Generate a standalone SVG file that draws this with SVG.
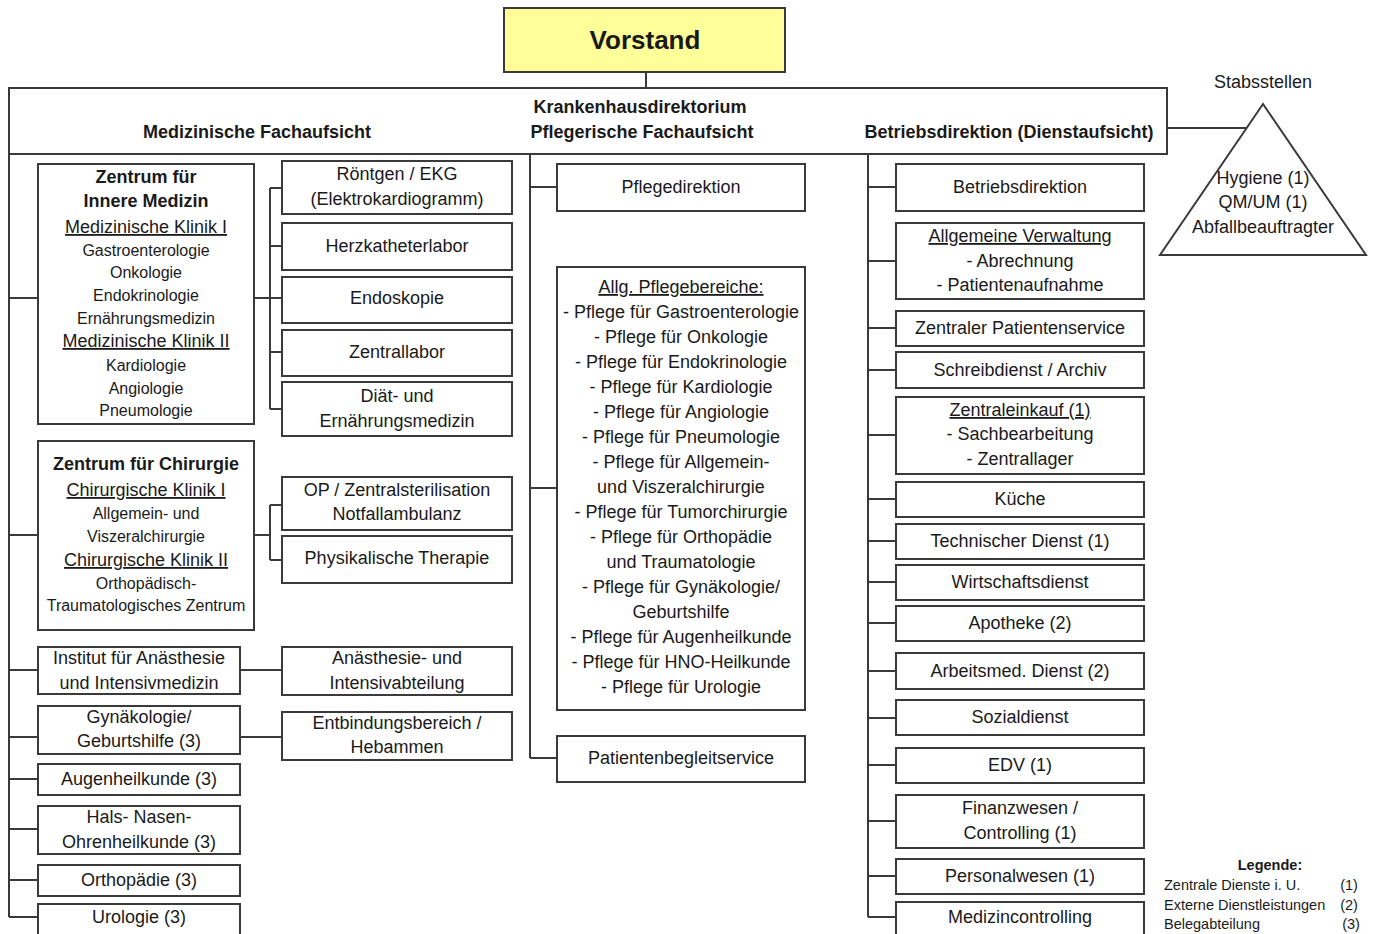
<svg xmlns="http://www.w3.org/2000/svg" width="1374" height="934" viewBox="0 0 1374 934">
<style>
.box{fill:#fff;stroke:#3a3a3a;stroke-width:2}
.ln{fill:none;stroke:#3a3a3a;stroke-width:2}
text{font-family:"Liberation Sans",Arial,sans-serif;font-size:18px;fill:#1a1a1a;text-anchor:middle}
.s{font-size:16px}
.b{font-weight:bold}
.u{text-decoration:underline}
.lg{font-size:14.5px;text-anchor:start}
.ln2{font-size:14.5px}
</style>
<rect width="1374" height="934" fill="#fff"/>
<g id="connectors">
<path class="ln" d="M646 72V88"/>
<path class="ln" d="M1167 128H1246"/>
<path class="ln" d="M9 154V917"/>
<path class="ln" d="M9 298H38M9 535H38M9 670H38M9 737H38M9 779H38M9 829H38M9 880H38M9 917H38"/>
<path class="ln" d="M254 298H270M270 188V409M270 188H282M270 246H282M270 298H282M270 352H282M270 409H282"/>
<path class="ln" d="M254 535H270M270 505V560M270 505H282M270 560H282"/>
<path class="ln" d="M240 670H282M240 737H282"/>
<path class="ln" d="M530 154V758M530 187H557M530 488H557M530 758H557"/>
<path class="ln" d="M868 154V917M868 187H896M868 261H896M868 328H896M868 370H896M868 435H896M868 499H896M868 541H896M868 582H896M868 623H896M868 671H896M868 718H896M868 765H896M868 821H896M868 876H896M868 917H896"/>
</g>
<g id="vorstand"><rect x="504" y="8" width="281" height="64" fill="#ffff99" stroke="#3a3a3a" stroke-width="2"/><text x="645" y="49" class="b" style="font-size:26px">Vorstand</text></g>
<g id="direktorium"><rect class="box" x="9" y="88" width="1158" height="66"/>
<text x="640" y="113" class="b">Krankenhausdirektorium</text>
<text x="257" y="138" class="b">Medizinische Fachaufsicht</text>
<text x="642" y="138" class="b">Pflegerische Fachaufsicht</text>
<text x="1009" y="138" class="b">Betriebsdirektion (Dienstaufsicht)</text></g>
<g id="stabsstellen"><text x="1263" y="88">Stabsstellen</text>
<polygon points="1263,104 1160,255 1366,255" fill="#fff" stroke="#3a3a3a" stroke-width="2"/>
<text x="1263" y="184">Hygiene (1)</text><text x="1263" y="208">QM/UM (1)</text><text x="1263" y="233">Abfallbeauftragter</text></g>
<g id="innere"><rect class="box" x="38" y="164" width="216" height="260"/>
<text x="146" y="183" class="b">Zentrum für</text>
<text x="146" y="207" class="b">Innere Medizin</text>
<text x="146" y="233" class="u">Medizinische Klinik I</text>
<text x="146" y="256" class="s">Gastroenterologie</text>
<text x="146" y="278" class="s">Onkologie</text>
<text x="146" y="301" class="s">Endokrinologie</text>
<text x="146" y="324" class="s">Ernährungsmedizin</text>
<text x="146" y="347" class="u">Medizinische Klinik II</text>
<text x="146" y="371" class="s">Kardiologie</text>
<text x="146" y="394" class="s">Angiologie</text>
<text x="146" y="416" class="s">Pneumologie</text></g>
<g id="chirurgie"><rect class="box" x="38" y="441" width="216" height="189"/>
<text x="146" y="470" class="b">Zentrum für Chirurgie</text>
<text x="146" y="496" class="u">Chirurgische Klinik I</text>
<text x="146" y="519" class="s">Allgemein- und</text>
<text x="146" y="542" class="s">Viszeralchirurgie</text>
<text x="146" y="566" class="u">Chirurgische Klinik II</text>
<text x="146" y="589" class="s">Orthopädisch-</text>
<text x="146" y="611" class="s">Traumatologisches Zentrum</text></g>
<g id="anaesthesie-inst"><rect class="box" x="38" y="647" width="202" height="47"/><text x="139" y="664">Institut für Anästhesie</text><text x="139" y="689">und Intensivmedizin</text></g>
<g id="gyn"><rect class="box" x="38" y="706" width="202" height="48"/><text x="139" y="723">Gynäkologie/</text><text x="139" y="747">Geburtshilfe (3)</text></g>
<g id="augen"><rect class="box" x="38" y="764" width="202" height="31"/><text x="139" y="785">Augenheilkunde (3)</text></g>
<g id="hno"><rect class="box" x="38" y="806" width="202" height="48"/><text x="139" y="823">Hals- Nasen-</text><text x="139" y="848">Ohrenheilkunde (3)</text></g>
<g id="ortho"><rect class="box" x="38" y="865" width="202" height="31"/><text x="139" y="886">Orthopädie (3)</text></g>
<g id="uro"><rect class="box" x="38" y="904" width="202" height="31"/><text x="139" y="923">Urologie (3)</text></g>
<g id="roentgen"><rect class="box" x="282" y="161" width="230" height="53"/><text x="397" y="180">Röntgen / EKG</text><text x="397" y="205">(Elektrokardiogramm)</text></g>
<g id="herzkatheter"><rect class="box" x="282" y="223" width="230" height="47"/><text x="397" y="252">Herzkatheterlabor</text></g>
<g id="endoskopie"><rect class="box" x="282" y="277" width="230" height="46"/><text x="397" y="304">Endoskopie</text></g>
<g id="zentrallabor"><rect class="box" x="282" y="330" width="230" height="46"/><text x="397" y="358">Zentrallabor</text></g>
<g id="diaet"><rect class="box" x="282" y="382" width="230" height="54"/><text x="397" y="402">Diät- und</text><text x="397" y="427">Ernährungsmedizin</text></g>
<g id="op"><rect class="box" x="282" y="477" width="230" height="53"/><text x="397" y="496">OP / Zentralsterilisation</text><text x="397" y="520">Notfallambulanz</text></g>
<g id="physik"><rect class="box" x="282" y="536" width="230" height="47"/><text x="397" y="564">Physikalische Therapie</text></g>
<g id="anaesthesie-abt"><rect class="box" x="282" y="647" width="230" height="48"/><text x="397" y="664">Anästhesie- und</text><text x="397" y="689">Intensivabteilung</text></g>
<g id="entbindung"><rect class="box" x="282" y="712" width="230" height="48"/><text x="397" y="729">Entbindungsbereich /</text><text x="397" y="753">Hebammen</text></g>
<g id="pflegedirektion"><rect class="box" x="557" y="164" width="248" height="47"/><text x="681" y="193">Pflegedirektion</text></g>
<g id="pflegebereiche"><rect class="box" x="557" y="267" width="248" height="443"/>
<text x="681" y="293" class="u">Allg. Pflegebereiche:</text>
<text x="681" y="318">- Pflege für Gastroenterologie</text>
<text x="681" y="343">- Pflege für Onkologie</text>
<text x="681" y="368">- Pflege für Endokrinologie</text>
<text x="681" y="393">- Pflege für Kardiologie</text>
<text x="681" y="418">- Pflege für Angiologie</text>
<text x="681" y="443">- Pflege für Pneumologie</text>
<text x="681" y="468">- Pflege für Allgemein-</text>
<text x="681" y="493">und Viszeralchirurgie</text>
<text x="681" y="518">- Pflege für Tumorchirurgie</text>
<text x="681" y="543">- Pflege für Orthopädie</text>
<text x="681" y="568">und Traumatologie</text>
<text x="681" y="593">- Pflege für Gynäkologie/</text>
<text x="681" y="618">Geburtshilfe</text>
<text x="681" y="643">- Pflege für Augenheilkunde</text>
<text x="681" y="668">- Pflege für HNO-Heilkunde</text>
<text x="681" y="693">- Pflege für Urologie</text></g>
<g id="patientenbegleit"><rect class="box" x="557" y="736" width="248" height="46"/><text x="681" y="764">Patientenbegleitservice</text></g>
<g id="betriebsdirektion"><rect class="box" x="896" y="164" width="248" height="47"/><text x="1020" y="193">Betriebsdirektion</text></g>
<g id="verwaltung"><rect class="box" x="896" y="223" width="248" height="76"/><text x="1020" y="242" class="u">Allgemeine Verwaltung</text><text x="1020" y="267">- Abrechnung</text><text x="1020" y="291">- Patientenaufnahme</text></g>
<g id="patientenservice"><rect class="box" x="896" y="311" width="248" height="35"/><text x="1020" y="334">Zentraler Patientenservice</text></g>
<g id="schreibdienst"><rect class="box" x="896" y="352" width="248" height="36"/><text x="1020" y="376">Schreibdienst / Archiv</text></g>
<g id="einkauf"><rect class="box" x="896" y="397" width="248" height="77"/><text x="1020" y="416" class="u">Zentraleinkauf (1)</text><text x="1020" y="440">- Sachbearbeitung</text><text x="1020" y="465">- Zentrallager</text></g>
<g id="kueche"><rect class="box" x="896" y="482" width="248" height="35"/><text x="1020" y="505">Küche</text></g>
<g id="technik"><rect class="box" x="896" y="524" width="248" height="35"/><text x="1020" y="547">Technischer Dienst (1)</text></g>
<g id="wirtschaft"><rect class="box" x="896" y="565" width="248" height="35"/><text x="1020" y="588">Wirtschaftsdienst</text></g>
<g id="apotheke"><rect class="box" x="896" y="606" width="248" height="35"/><text x="1020" y="629">Apotheke (2)</text></g>
<g id="arbeitsmed"><rect class="box" x="896" y="653" width="248" height="36"/><text x="1020" y="677">Arbeitsmed. Dienst (2)</text></g>
<g id="sozialdienst"><rect class="box" x="896" y="700" width="248" height="35"/><text x="1020" y="723">Sozialdienst</text></g>
<g id="edv"><rect class="box" x="896" y="748" width="248" height="35"/><text x="1020" y="771">EDV (1)</text></g>
<g id="finanzwesen"><rect class="box" x="896" y="795" width="248" height="53"/><text x="1020" y="814">Finanzwesen /</text><text x="1020" y="839">Controlling (1)</text></g>
<g id="personalwesen"><rect class="box" x="896" y="859" width="248" height="35"/><text x="1020" y="882">Personalwesen (1)</text></g>
<g id="medizincontrolling"><rect class="box" x="896" y="902" width="248" height="34"/><text x="1020" y="923">Medizincontrolling</text></g>
<g id="legende">
<text x="1270" y="870" class="b ln2">Legende:</text>
<text x="1164" y="890" class="lg">Zentrale Dienste i. U.</text><text x="1349" y="890" class="ln2">(1)</text>
<text x="1164" y="910" class="lg">Externe Dienstleistungen</text><text x="1349" y="910" class="ln2">(2)</text>
<text x="1164" y="929" class="lg">Belegabteilung</text><text x="1351" y="929" class="ln2">(3)</text>
</g>
</svg>
